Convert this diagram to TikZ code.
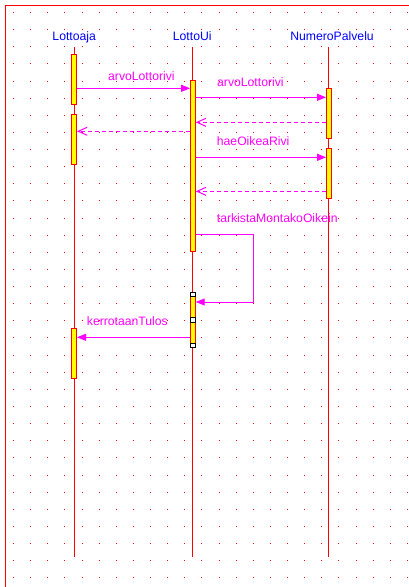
\documentclass[tikz,border=0pt]{standalone}
\usepackage{fontspec}
\setmainfont{Liberation Sans}
\usetikzlibrary{positioning,arrows.meta}
\definecolor{msgpink}{RGB}{255,0,255}
\definecolor{objred}{RGB}{255,0,0}
\definecolor{headblue}{RGB}{0,0,255}
\definecolor{actyellow}{RGB}{255,255,0}

\begin{document}
\begin{tikzpicture}[x=1pt,y=-1pt,node distance=76.6pt,
                    every node/.style={font=\fontsize{12.2}{14}\selectfont},
                    head/.style={text=headblue,inner xsep=0pt,inner ysep=3.4pt,
                                 text height=0.72em,text depth=0.25em},
                    lifeline/.style={objred,line width=1pt},
                    act/.style={draw=objred,fill=actyellow,line width=1pt,inner sep=0pt,
                                minimum width=4.6pt,minimum height=50pt},
                    msg/.style={msgpink,line width=1pt,-{Triangle[length=9pt,width=7pt]}},
                    ret/.style={msgpink,line width=1pt,dash pattern=on 4pt off 3pt,
                                -{Straight Barb[length=9pt,width=8pt]}},
                    msglabel/.style={text=msgpink,anchor=base west,inner sep=0pt},
                    handle/.style={draw=black,fill=white,line width=1pt,inner sep=0pt,
                                   minimum size=4.5pt}]
\useasboundingbox (0,0) rectangle (409,587);
% grid dots
\foreach \i in {0,...,23}
  \foreach \j in {0,...,33}
    \fill[objred] (13+17.13*\i,12+17.13*\j) rectangle ++(1,1);
\fill[objred] (4.8,4.8) rectangle (6.2,587);
\fill[objred] (4.8,4.8) rectangle (409,6.2);

% objects
\node[head,anchor=base]           (lottoaja) at (74.2,40.5) {Lottoaja};
\node[head,right=of lottoaja]     (lottoui)  {LottoUi};
\node[head,right=78.4pt of lottoui] (numero) {NumeroPalvelu};
\coordinate (bottom) at (0,557);
\coordinate (topA) at (lottoaja.south);
\coordinate (topU) at ([xshift=0.7pt]lottoui.south);
\coordinate (topN) at ([xshift=-3.2pt]numero.south);
\foreach \t in {topA,topU,topN}
  \draw[lifeline] (\t) -- (\t |- bottom);

% activations
\node[act] (a1) at (topA |- 0,79.8)  {};
\node[act] (a2) at (topA |- 0,139.9) {};
\node[act] (a3) at (topA |- 0,353.8) {};
\node[act,minimum height=170.4pt] (u1) at (topU |- 0,166) {};
\node[act] (u2) at (topU |- 0,320.2) {};
\node[act] (n1) at (topN |- 0,113.7) {};
\node[act] (n2) at (topN |- 0,173.8) {};

% messages
\draw[msg] (a1.east |- 0,88.3)  -- (u1.west |- 0,88.3);
\draw[msg] (u1.east |- 0,97.3)  -- (n1.west |- 0,97.3);
\draw[ret] (n1.west |- 0,122.3) -- (u1.east |- 0,122.3);
\draw[ret] (u1.west |- 0,131.3) -- (a2.east |- 0,131.3);
\draw[msg] (u1.east |- 0,157.3) -- (n2.west |- 0,157.3);
\draw[ret] (n2.west |- 0,191.3) -- (u1.east |- 0,191.3);
\draw[msg] (u1.east |- 0,234.3) -- ++(57.5,0) |- (u2.east |- 0,302);
\draw[msg] (u2.west |- 0,337.3) -- (a3.east |- 0,337.3);
\node[msglabel] (l1) at (108,80)      {arvoLottorivi};
\node[msglabel] (l2) at (217,86)      {arvoLottorivi};
\node[msglabel] (l3) at (216.7,145)   {haeOikeaRivi};
\node[msglabel] (l4) at (216.7,222.7) {tarkistaMontakoOikein};
\node[msglabel] (l5) at (86.7,325.3)  {kerrotaanTulos};

% selection handles
\node[handle] (h1) at (u2.north)  {};
\node[handle] (h2) at (u2.center) {};
\node[handle] (h3) at (u2.south)  {};
\end{tikzpicture}
\end{document}
